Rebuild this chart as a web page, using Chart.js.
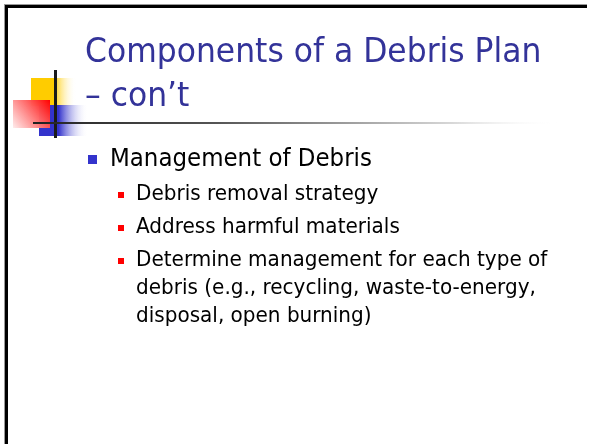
<!DOCTYPE html>
<html>
<head>
<meta charset="utf-8">
<script src="https://cdn.jsdelivr.net/npm/chart.js@4/dist/chart.umd.min.js"></script>
<style>
  html, body { margin: 0; padding: 0; background: #fff; }
  #slide { display: block; }
</style>
</head>
<body>
<canvas id="slide" width="590" height="444"></canvas>
<script>
// slide content
const titleLines = ['Components of a Debris Plan', '\u2013 con\u2019t'];
const bulletTexts = [
  'Management of Debris',
  'Debris removal strategy',
  'Address harmful materials',
  'Determine management for each type of debris (e.g., recycling, waste-to-energy, disposal, open burning)'
];
const bulletLevels = [0, 1, 1, 1];

const FONT = '"DejaVu Sans Condensed", "DejaVu Sans", sans-serif';

// draw text stretched horizontally (Tahoma is a bit wider than DejaVu Condensed)
function stretchText(ctx, text, x, y, sx) {
  ctx.save();
  ctx.translate(x, y);
  ctx.scale(sx, 1);
  ctx.fillText(text, 0, 0);
  ctx.restore();
}

function wrap(ctx, text, maxWidth, sx) {
  const words = text.split(' ');
  const lines = [];
  let line = '';
  words.forEach(w => {
    const test = line ? line + ' ' + w : w;
    if (ctx.measureText(test).width * sx > maxWidth && line) {
      lines.push(line);
      line = w;
    } else {
      line = test;
    }
  });
  if (line) lines.push(line);
  return lines;
}

const slidePlugin = {
  id: 'slide',
  afterDraw(chart) {
    const ctx = chart.ctx;
    ctx.save();

    // frame (top + left)
    ctx.fillStyle = '#9a9a9a';
    ctx.fillRect(4, 4, 583, 1);
    ctx.fillRect(4, 4, 1, 440);
    ctx.fillStyle = '#000';
    ctx.fillRect(5, 5, 582, 3);
    ctx.fillRect(5, 5, 3, 439);

    // yellow square
    let g = ctx.createLinearGradient(31, 0, 76, 0);
    g.addColorStop(0, '#FFCC00');
    g.addColorStop(0.5, '#FFCC00');
    g.addColorStop(1, 'rgba(255,255,255,0)');
    ctx.fillStyle = g;
    ctx.fillRect(31, 78, 45, 28);

    // blue square
    g = ctx.createLinearGradient(39, 0, 88, 0);
    g.addColorStop(0, '#3333CC');
    g.addColorStop(0.4, '#3333CC');
    g.addColorStop(1, 'rgba(255,255,255,0)');
    ctx.fillStyle = g;
    ctx.fillRect(39, 105, 49, 31);

    // red square
    g = ctx.createLinearGradient(50, 100, 13, 128);
    g.addColorStop(0, '#FF0000');
    g.addColorStop(1, 'rgba(255,235,235,0.95)');
    ctx.fillStyle = g;
    ctx.fillRect(13, 100, 37, 28);

    // vertical line
    ctx.fillStyle = '#1a1a1a';
    ctx.fillRect(54, 70, 3, 68);

    // horizontal rule
    g = ctx.createLinearGradient(33, 0, 558, 0);
    g.addColorStop(0, '#222');
    g.addColorStop(0.35, '#555');
    g.addColorStop(0.8, '#d8d8d8');
    g.addColorStop(1, 'rgba(255,255,255,0)');
    ctx.fillStyle = g;
    ctx.fillRect(33, 122, 525, 2);

    // title
    ctx.fillStyle = '#333399';
    ctx.font = '33px ' + FONT;
    ctx.textBaseline = 'alphabetic';
    titleLines.forEach((t, i) => stretchText(ctx, t, 85, 62 + i * 44, 1.058));

    // bullets
    let y = 166;
    bulletTexts.forEach((t, i) => {
      const lvl = bulletLevels[i];
      if (lvl === 0) {
        ctx.font = '25px ' + FONT;
        ctx.fillStyle = '#3333CC';
        ctx.fillRect(88, y - 11, 9, 9);
        ctx.fillStyle = '#000';
        stretchText(ctx, t, 110, y, 1.02);
        y += 34;
      } else {
        ctx.font = '20.5px ' + FONT;
        ctx.fillStyle = '#FF0000';
        ctx.fillRect(118, y - 8, 6, 6);
        ctx.fillStyle = '#000';
        const lines = wrap(ctx, t, 420, 1.085);
        lines.forEach((l, k) => stretchText(ctx, l, 136, y + k * 28, 1.085));
        y += 33 + (lines.length - 1) * 28;
      }
    });

    ctx.restore();
  }
};

new Chart(document.getElementById('slide'), {
  type: 'scatter',
  data: { datasets: [] },
  options: {
    responsive: false,
    animation: false,
    events: [],
    layout: { padding: 0 },
    scales: { x: { display: false }, y: { display: false } },
    plugins: { legend: { display: false }, tooltip: { enabled: false } }
  },
  plugins: [slidePlugin]
});
</script>
</body>
</html>
